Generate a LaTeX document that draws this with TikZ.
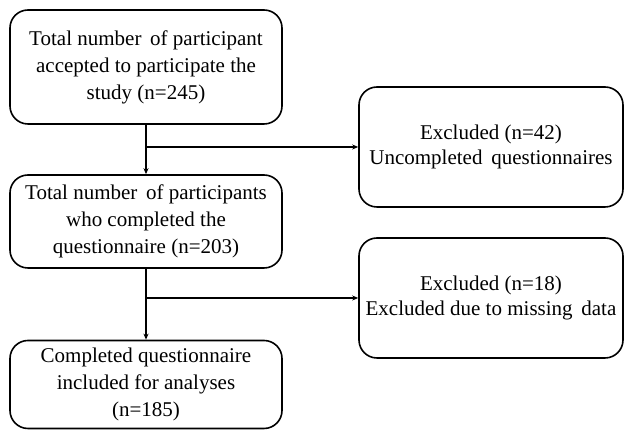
\documentclass[tikz,border=0pt]{standalone}
\usepackage{fontspec}
\setmainfont{Liberation Serif}
\usepackage{tikz}
\usetikzlibrary{arrows.meta, positioning}

\begin{document}
\begin{tikzpicture}[
    x=1pt, y=1pt,
    stage/.style={draw, line width=1.6pt, rounded corners=18pt, minimum width=272pt, align=center, font=\fontsize{21}{27}\selectfont},
    excluded/.style={draw, line width=1.6pt, rounded corners=18pt, minimum width=264pt, minimum height=120pt, align=center, font=\fontsize{21}{25}\selectfont},
    arrow/.style={-{Stealth[length=6pt, width=5pt]}, line width=1.3pt}
]
    \useasboundingbox (0,0) rectangle (625,430);

    % Main flow (left)
    \node[stage, minimum height=114pt] (accepted) at (146,363) {Total number\, of participant\\accepted to participate the\\study (n=245)};
    \node[stage, minimum height=93pt] (completed) at (146,208.5) {Total number\, of participants\\who completed the\\questionnaire (n=203)};
    \node[stage, minimum height=88pt] (included) at (146,45.5) {Completed questionnaire\\included for analyses\\(n=185)};

    % Exclusions (right)
    \node[excluded] (uncompleted) at (491,283) {Excluded (n=42)\\Uncompleted\, questionnaires};
    \node[excluded] (missing) at (491,132) {Excluded (n=18)\\Excluded due to missing\, data};

    % Branch points
    \coordinate (split1) at (accepted.south |- uncompleted.west);
    \coordinate (split2) at (completed.south |- missing.west);

    % Connections
    \draw[arrow] (accepted) -- (completed);
    \draw[arrow] (completed) -- (included);
    \draw[arrow] (split1) -- (uncompleted);
    \draw[arrow] (split2) -- (missing);
\end{tikzpicture}
\end{document}
